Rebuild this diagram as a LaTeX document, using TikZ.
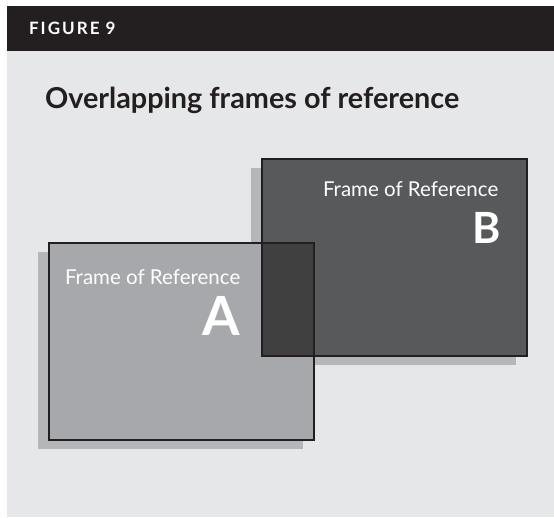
\documentclass[tikz,border=0pt]{standalone}
\usepackage{fontspec}
\setmainfont{Lato}
\newfontfamily\spacedfont[LetterSpace=12]{Lato}
\usetikzlibrary{positioning}

\begin{document}
\begin{tikzpicture}[x=1pt, y=-1pt, every node/.style={inner sep=0pt, outer sep=0pt}]
	% Define colors
	\definecolor{panel_bg}{RGB}{230, 231, 232}
	\definecolor{ink}{RGB}{35, 31, 32}
	\definecolor{frameA_bg}{RGB}{167, 168, 171}
	\definecolor{frameB_bg}{RGB}{88, 89, 91}
	\definecolor{overlap_bg}{RGB}{64, 64, 65}
	\definecolor{shadow_bg}{RGB}{181, 182, 185}

	% Styles
	\tikzstyle{frame_box} = [minimum width=265pt, minimum height=197pt, anchor=north west]
	\tikzstyle{shadow_box} = [frame_box, fill=shadow_bg]
	\tikzstyle{frame_edge} = [draw=ink, line width=2pt]
	\tikzstyle{frame_label} = [text=white, font=\fontsize{20.5}{23}\selectfont]
	\tikzstyle{frame_letter} = [text=white]

	% Page and header
	\useasboundingbox (0,0) rectangle (554,517);
	\fill[white] (0,0) rectangle (554,517);
	\fill[panel_bg] (7,51) rectangle (554,517);
	\fill[ink] (7,6) rectangle (554,51);
	\node[anchor=base west, text=white, font=\spacedfont\bfseries\fontsize{17}{19}\selectfont] (figno) at (29,34.3) {FIGURE 9};

	% Title
	\node[anchor=base west, text=ink, font=\bfseries\fontsize{28.8}{32}\selectfont] (title) at (45,108) {Overlapping frames of reference};

	% Frame corners
	\coordinate (cornerA) at (49,243);
	\coordinate (cornerB) at (262,159);

	% Shadows
	\node[shadow_box] (shadowB) at ([shift={(-11,9)}]cornerB) {};
	\node[shadow_box] (shadowA) at ([shift={(-11,9)}]cornerA) {};

	% Frames
	\node[frame_box, fill=frameA_bg] (frameA) at (cornerA) {};
	\node[frame_box, fill=frameB_bg] (frameB) at (cornerB) {};
	\fill[overlap_bg] (frameB.north west |- frameA.north) rectangle (frameA.south east |- frameB.south);
	\draw[frame_edge] (frameA.north west) rectangle (frameA.south east);
	\draw[frame_edge] (frameB.north west) rectangle (frameB.south east);

	% Labels
	\node[frame_label, anchor=base west] (labelA) at ([shift={(16,41.3)}]frameA.north west) {Frame of Reference};
	\node[frame_letter, anchor=base east, font=\bfseries\fontsize{54}{60}\selectfont] (letterA) at ([shift={(0,51)}]labelA.base east) {A};
	\node[frame_label, anchor=base west] (labelB) at ([shift={(61,37.7)}]frameB.north west) {Frame of Reference};
	\node[frame_letter, anchor=base east, font=\bfseries\fontsize{43}{48}\selectfont] (letterB) at ([shift={(2.5,46.3)}]labelB.base east) {B};
\end{tikzpicture}
\end{document}
